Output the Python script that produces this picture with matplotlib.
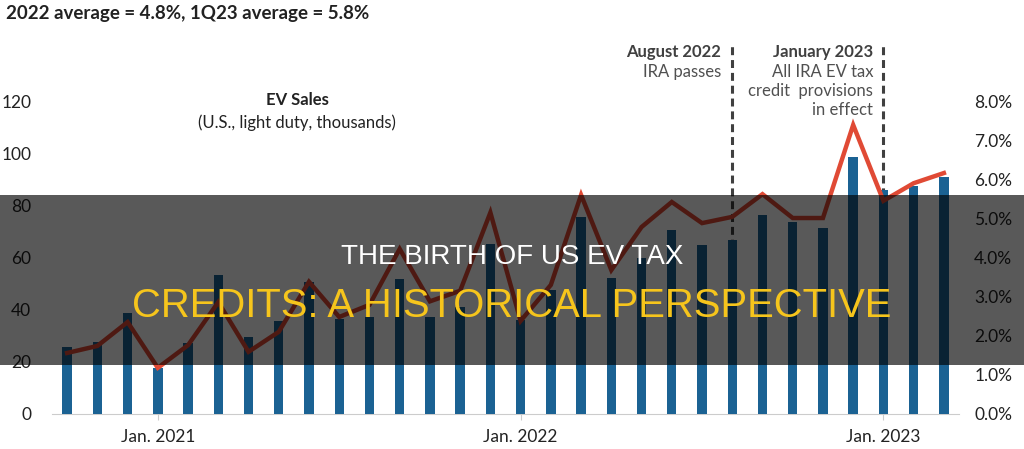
import matplotlib
matplotlib.use("Agg")
import numpy as np
from matplotlib import pyplot as plt
from matplotlib.patches import Rectangle

# Monthly data, Oct 2020 .. Mar 2023
months = ["Oct 2020", "Nov 2020", "Dec 2020",
          "Jan 2021", "Feb 2021", "Mar 2021", "Apr 2021", "May 2021", "Jun 2021",
          "Jul 2021", "Aug 2021", "Sep 2021", "Oct 2021", "Nov 2021", "Dec 2021",
          "Jan 2022", "Feb 2022", "Mar 2022", "Apr 2022", "May 2022", "Jun 2022",
          "Jul 2022", "Aug 2022", "Sep 2022", "Oct 2022", "Nov 2022", "Dec 2022",
          "Jan 2023", "Feb 2023", "Mar 2023"]
ev_sales = [25.7, 27.6, 38.7, 17.5, 27.2, 53.3, 29.5, 35.6, 50.5, 36.4,
            37.2, 51.7, 37.3, 41.0, 65.3, 36.0, 47.5, 75.5, 52.0, 59.8,
            70.5, 64.8, 66.7, 76.2, 73.6, 71.3, 98.5, 86.0, 87.6, 90.8]
ev_share = [1.56, 1.74, 2.35, 1.18, 1.76, 2.86, 1.59, 2.10, 3.38, 2.48,
            2.79, 4.22, 2.88, 3.15, 5.15, 2.38, 3.30, 5.60, 3.68, 4.78,
            5.42, 4.88, 5.04, 5.62, 5.01, 5.01, 7.39, 5.45, 5.90, 6.16]
tick_months = ["Jan 2021", "Jan 2022", "Jan 2023"]
tick_labels = ["Jan. 2021", "Jan. 2022", "Jan. 2023"]
events = ["Aug 2022", "Jan 2023"]

plt.rcParams['font.family'] = ['Lato', 'DejaVu Sans']

W, H = 1024, 449
fig = plt.figure(figsize=(W / 100, H / 100), dpi=100)

def fx(px):
    return px / W

def fy(py):
    return 1 - py / H

ax = fig.add_axes([fx(52), fy(414), fx(959) - fx(52), fy(45) - fy(414)])
ax2 = ax.twinx()

x = np.arange(len(months))
ymax = 141.5
ax.set_ylim(0, ymax)
ax2.set_ylim(0, ymax * 8 / 120)
ax.set_xlim(-0.5, len(months) - 0.5)

bar_color = "#1b6293"
line_color = "#e04a35"
ax.bar(x, ev_sales, width=0.31, color=bar_color, zorder=3)
ax2.plot(x, ev_share, color=line_color, lw=3.2, solid_joinstyle='miter', zorder=4)
ax.set_zorder(ax2.get_zorder() - 1)
ax.patch.set_visible(False)

for ev in events:
    ax.axvline(months.index(ev), ymin=0, ymax=1, color="#404040", lw=2.2,
               dashes=(2.6, 1.6), zorder=2)

ax.set_yticks(range(0, 121, 20))
ax2.set_yticks(range(0, 9))
ax2.set_yticklabels([f"{v}.0%" for v in range(0, 9)])
ax.set_xticks([months.index(m) for m in tick_months])
ax.set_xticklabels(tick_labels)

for a in (ax, ax2):
    for s in a.spines.values():
        s.set_visible(False)
ax.spines['bottom'].set_visible(True)
ax.spines['bottom'].set_color("#cccccc")
ax.tick_params(axis='y', length=0, pad=15, labelsize=12.5, labelcolor="#222222")
ax2.tick_params(axis='y', length=0, pad=11, labelsize=12.5, labelcolor="#222222")
ax.tick_params(axis='x', length=4, color="#cccccc", pad=7, labelsize=12.5,
               labelcolor="#222222")

# annotations
fig.text(fx(6), fy(14), "2022 average = 4.8%, 1Q23 average = 5.8%",
         fontsize=13.5, fontweight='bold', color="#222222", va='center')
fig.text(fx(297), fy(100), "EV Sales", fontsize=12, fontweight='bold',
         color="#222222", ha='center', va='center')
fig.text(fx(297), fy(123), "(U.S., light duty, thousands)", fontsize=12,
         color="#222222", ha='center', va='center')
fig.text(fx(721), fy(52), "August 2022", fontsize=12, fontweight='bold',
         color="#404040", ha='right', va='center')
fig.text(fx(721), fy(72), "IRA passes", fontsize=12,
         color="#505050", ha='right', va='center')
fig.text(fx(873), fy(52), "January 2023", fontsize=12, fontweight='bold',
         color="#404040", ha='right', va='center')
for txt, py in [("All IRA EV tax", 72), ("credit  provisions", 91), ("in effect", 110)]:
    fig.text(fx(873), fy(py), txt, fontsize=12, color="#505050",
             ha='right', va='center')

# dark title band across the middle
fig.patches.append(Rectangle((0, fy(365)), 1, fy(195) - fy(365),
                             transform=fig.transFigure, facecolor="black",
                             alpha=0.65, zorder=10))
fig.text(0.5, fy(257), "THE BIRTH OF US EV TAX", fontsize=20,
         family='Liberation Sans', color="white", ha='center', va='center', zorder=11)
fig.text(0.5, fy(306), "CREDITS: A HISTORICAL PERSPECTIVE", fontsize=28.8,
         family='Liberation Sans', color="#f6c51c", ha='center', va='center', zorder=11)

fig.savefig("out.png", dpi=100)
